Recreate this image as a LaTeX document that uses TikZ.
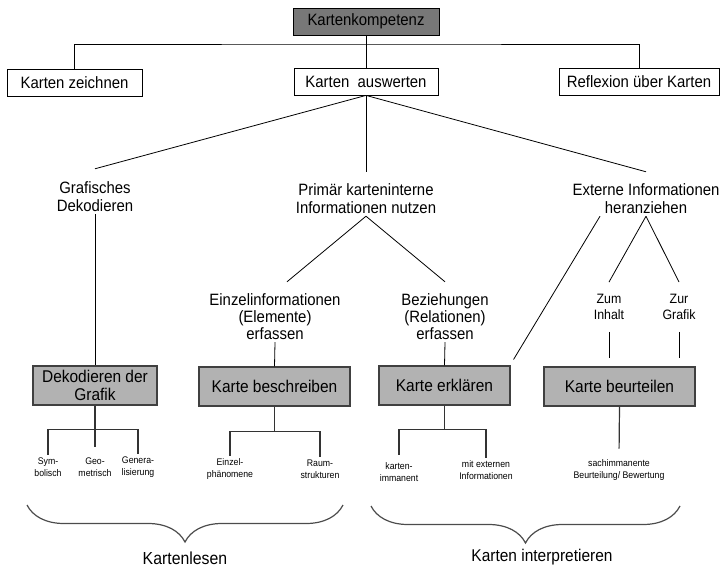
\documentclass[tikz,border=0pt]{standalone}
\usepackage{fontspec}
\setmainfont{Liberation Sans}[FakeStretch=0.91]
\usetikzlibrary{calc,decorations.pathreplacing}

\begin{document}
\begin{tikzpicture}[x=1pt,y=-1pt]
\tikzset{
topbox/.style={rectangle,draw=black,line width=0.8pt,fill=white,minimum height=27pt,inner sep=0pt,
font=\fontsize{16.4}{18}\selectfont},
graybox/.style={rectangle,draw=black!75,line width=1.1pt,fill=gray!60,minimum height=39pt,inner sep=0pt,
align=center,font=\fontsize{17}{18}\selectfont},
mylabel/.style={align=center,inner sep=2pt,font=\fontsize{16.4}{18}\selectfont},
smalllabel/.style={align=center,inner sep=3pt,font=\fontsize{9.6}{11.5}\selectfont},
myline/.style={draw=black,line width=0.8pt},
grayline/.style={draw=black!80,line width=1.2pt},
mybrace/.style={decorate,decoration={brace,mirror,amplitude=37pt},draw=black!70,line width=1.2pt},
}
\useasboundingbox (0,0) rectangle (722,569);

% top level
\node [topbox,fill=black!53,minimum width=146pt] (kompetenz) at (366,21.5) {Kartenkompetenz};
\node [topbox,minimum width=135pt] (zeichnen) at (74.5,82.5) {Karten zeichnen};
\node [topbox,minimum width=144pt] (auswerten) at (366,81.5) {Karten\ \ auswerten};
\node [topbox,minimum width=160pt] (reflexion) at (639,81.5) {Reflexion über Karten};
\coordinate (topjoin) at (366,44);

% second level
\node [mylabel] (grafisch) at (95,197) {Grafisches\\Dekodieren};
\node [mylabel] (primaer) at (366,199) {Primär karteninterne\\Informationen nutzen};
\node [mylabel] (extern) at (646,199) {Externe Informationen\\heranziehen};
\node [mylabel,font=\fontsize{16.4}{17}\selectfont] (einzel) at (275,317) {Einzelinformationen\\(Elemente)\\erfassen};
\node [mylabel,font=\fontsize{16.4}{17}\selectfont] (bezieh) at (445,317) {Beziehungen\\(Relationen)\\erfassen};
\node [mylabel,font=\fontsize{13.6}{16}\selectfont] (zum) at (609,307) {Zum\\Inhalt};
\node [mylabel,font=\fontsize{13.6}{16}\selectfont] (zur) at (679,307) {Zur\\Grafik};

% gray boxes
\node [graybox,minimum width=124pt] (dekodieren) at (95,385.5) {Dekodieren der\\Grafik};
\node [graybox,minimum width=151pt] (beschreiben) at (274.5,386.5) {Karte beschreiben};
\node [graybox,minimum width=131pt] (erklaeren) at (444.5,385.5) {Karte erklären};
\node [graybox,minimum width=151pt] (beurteilen) at (619.5,386.5) {Karte beurteilen};

% small labels
\node [smalllabel] (sym) at (48,467) {Sym-\\bolisch};
\node [smalllabel] (geo) at (95,467) {Geo-\\metrisch};
\node [smalllabel] (gen) at (138,467) {Genera-\\lisierung};
\node [smalllabel] (einzelph) at (230,469) {Einzel-\\phänomene};
\node [smalllabel] (raum) at (320,469) {Raum-\\strukturen};
\node [smalllabel] (kimm) at (399,472) {karten-\\immanent};
\node [smalllabel] (mitext) at (486,470) {mit externen\\Informationen};
\node [smalllabel] (sach) at (619,470) {sachimmanente\\Beurteilung/ Bewertung};
\coordinate (dkjoin) at ($(dekodieren.south)+(0,24)$);
\coordinate (bsjoin) at ($(beschreiben.south)+(0,25)$);
\coordinate (erjoin) at ($(erklaeren.south)+(0,24)$);

% bottom
\coordinate (lesenL) at (27,505);
\coordinate (lesenR) at (343,505);
\coordinate (interL) at (371,506);
\coordinate (interR) at (680,506);
\node [mylabel,font=\fontsize{17.4}{18}\selectfont] (lesen) at (185,558) {Kartenlesen};
\node [mylabel,font=\fontsize{17}{18}\selectfont] (interpret) at (542,557) {Karten interpretieren};

\draw [myline] (kompetenz.south) -- (auswerten.north);
\draw [myline] (zeichnen.north) |- (topjoin) -| (reflexion.north);
\draw [myline] (auswerten.south) -- ([yshift=11pt]grafisch.north);
\draw [myline] (auswerten.south) -- ([yshift=10pt]primaer.north);
\draw [myline] (auswerten.south) -- ([yshift=10pt]extern.north);
\draw [myline] (grafisch.south) -- (dekodieren.north);
\draw [myline] (primaer.south) -- ([xshift=12pt,yshift=10pt]einzel.north);
\draw [myline] (primaer.south) -- ([yshift=10pt]bezieh.north);
\draw [myline] (einzel.south) -- (beschreiben.north);
\draw [myline] (bezieh.south) -- (erklaeren.north);
\draw [myline] ([xshift=-46pt]extern.south) -- ([xshift=3pt,yshift=6pt]erklaeren.north east);
\draw [myline] (extern.south) -- ([yshift=10pt]zum.north);
\draw [myline] (extern.south) -- ([yshift=10pt]zur.north);
\draw [myline,shorten <=10pt,shorten >=8pt] (zum.south) -- (zum.south |- beurteilen.north);
\draw [myline,shorten <=10pt,shorten >=8pt] (zur.south) -- (zur.south |- beurteilen.north);

\draw [grayline] (dekodieren.south) -- ([yshift=8pt]geo.north);
\draw [grayline] (sym.north) |- (dkjoin) -| (gen.north);
\draw [grayline] (beschreiben.south) -- (bsjoin);
\draw [grayline] (einzelph.north) |- (bsjoin) -| (raum.north);
\draw [grayline] (erklaeren.south) -- (erjoin);
\draw [grayline] ([yshift=5pt]kimm.north) |- (erjoin) -| (mitext.north);
\draw [grayline,shorten >=8pt] (beurteilen.south) -- (sach.north);

\draw [mybrace] (lesenL) -- (lesenR);
\draw [mybrace] (interL) -- (interR);
\end{tikzpicture}
\end{document}
